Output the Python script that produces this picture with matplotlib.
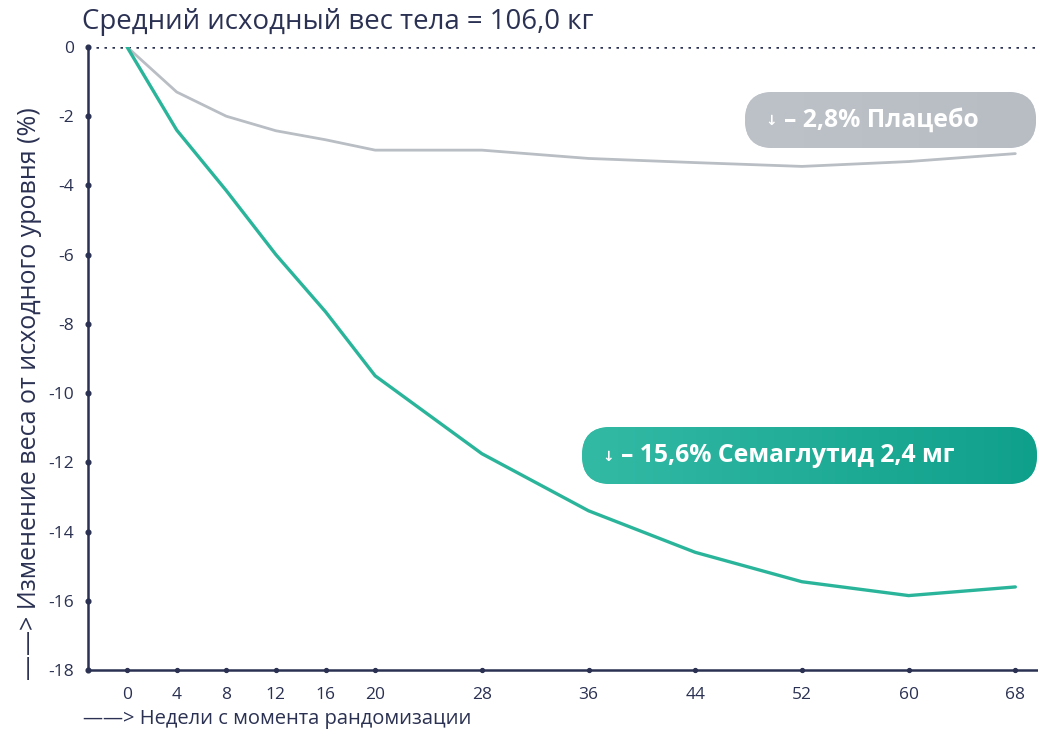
import numpy as np
import matplotlib
matplotlib.use("Agg")
import matplotlib.pyplot as plt
from matplotlib.patches import FancyBboxPatch
from matplotlib.colors import LinearSegmentedColormap

weeks = [0, 4, 8, 12, 16, 20, 28, 36, 44, 52, 60, 68]
semaglutide = [0, -2.4, -4.15, -6.0, -7.65, -9.5, -11.75, -13.4, -14.6, -15.45, -15.85, -15.6]
placebo = [0, -1.3, -2.0, -2.42, -2.68, -2.98, -2.98, -3.22, -3.34, -3.45, -3.31, -3.08]
yticks = [0, -2, -4, -6, -8, -10, -12, -14, -16, -18]
title = "Средний исходный вес тела = 106,0 кг"
ylabel = "——> Изменение веса от исходного уровня (%)"
xlabel = "——> Недели с момента рандомизации"
sema_label = "– 15,6% Семаглутид 2,4 мг"
plac_label = "– 2,8% Плацебо"

NAVY = "#2b3152"
TEAL = "#2ab59b"
GREY = "#b9bec4"
FONT = ["Open Sans", "DejaVu Sans"]

W, H = 1038, 730
fig = plt.figure(figsize=(W / 100, H / 100), dpi=100)

def fwd(w):
    w = np.asarray(w, dtype=float)
    return np.where(w <= 20, w * 12.4, 248 + (w - 20) * 13.333)

def inv(p):
    p = np.asarray(p, dtype=float)
    return np.where(p <= 248, p / 12.4, 20 + (p - 248) / 13.333)

ax = fig.add_axes([88 / W, 1 - 670 / H, 1 - 88 / W, (670 - 47) / H])
ax.set_xscale("function", functions=(fwd, inv))
ax.set_xlim(-3.15, 69.7)
ax.set_ylim(-18, 0)

ax.plot(weeks, placebo, color=GREY, lw=2.0, zorder=3, solid_capstyle="round")
ax.plot(weeks, semaglutide, color=TEAL, lw=2.4, zorder=4, solid_capstyle="round")
ax.axhline(0, color=NAVY, lw=1.8, ls=(0, (1, 2.2)), zorder=2)

for s in ["top", "right"]:
    ax.spines[s].set_visible(False)
for s in ["left", "bottom"]:
    ax.spines[s].set_color(NAVY)
    ax.spines[s].set_linewidth(1.8)

ax.set_xticks(weeks)
ax.set_xticklabels([str(w) for w in weeks])
ax.set_yticks(yticks)
ax.set_yticklabels([str(v) for v in yticks])
ax.tick_params(axis="both", length=0, colors=NAVY, labelsize=12.5)
ax.tick_params(axis="x", pad=12)
ax.tick_params(axis="y", pad=10)
for lab in ax.get_xticklabels() + ax.get_yticklabels():
    lab.set_family(FONT)

ax.plot(weeks, [-18] * len(weeks), "o", ms=2.8, color=NAVY, clip_on=False, zorder=5)
ax.plot([-3.15] * len(yticks), yticks, "o", ms=3.4, color=NAVY, clip_on=False, zorder=5)

ov = fig.add_axes([0, 0, 1, 1])
ov.set_xlim(0, W)
ov.set_ylim(H, 0)
ov.axis("off")
ov.patch.set_alpha(0)

ov.text(82, 22, title, fontsize=19.9, color=NAVY, family=FONT,
        ha="left", va="center")
ov.text(30, 680, ylabel, fontsize=18, color=NAVY, family=FONT,
        rotation=90, ha="center", va="bottom")
ov.text(83, 719, xlabel, fontsize=14.5, color=NAVY, family=FONT,
        ha="left", va="center")

def badge(x0, y0, x1, y1, colors, label, tx):
    h = y1 - y0
    r = h / 2
    box = FancyBboxPatch((x0, y0), x1 - x0, h,
                         boxstyle=f"round,pad=0,rounding_size={r}",
                         facecolor=colors[0], edgecolor="none", zorder=6)
    ov.add_patch(box)
    grad = np.linspace(0, 1, 256).reshape(1, -1)
    cmap = LinearSegmentedColormap.from_list("g", colors)
    im = ov.imshow(grad, extent=(x0, x1, y1, y0), cmap=cmap, aspect="auto", zorder=7)
    im.set_clip_path(box)
    ov.text(tx, (y0 + y1) / 2 + 1, "↓", fontsize=10, color="white", family=["DejaVu Sans"],
            fontweight="bold", ha="center", va="center", zorder=8)
    ov.text(tx + 13, (y0 + y1) / 2, label, fontsize=17.8, color="white", family=FONT,
            fontweight="bold", ha="left", va="center", zorder=8)

badge(745, 92, 1036, 148, ["#bcc2c8", "#b7bdc3"], plac_label, 771)
badge(582, 427, 1037, 484, ["#33baa5", "#0fa08b"], sema_label, 608)

ov.set_xlim(0, W)
ov.set_ylim(H, 0)

fig.savefig("out.png", dpi=100)
